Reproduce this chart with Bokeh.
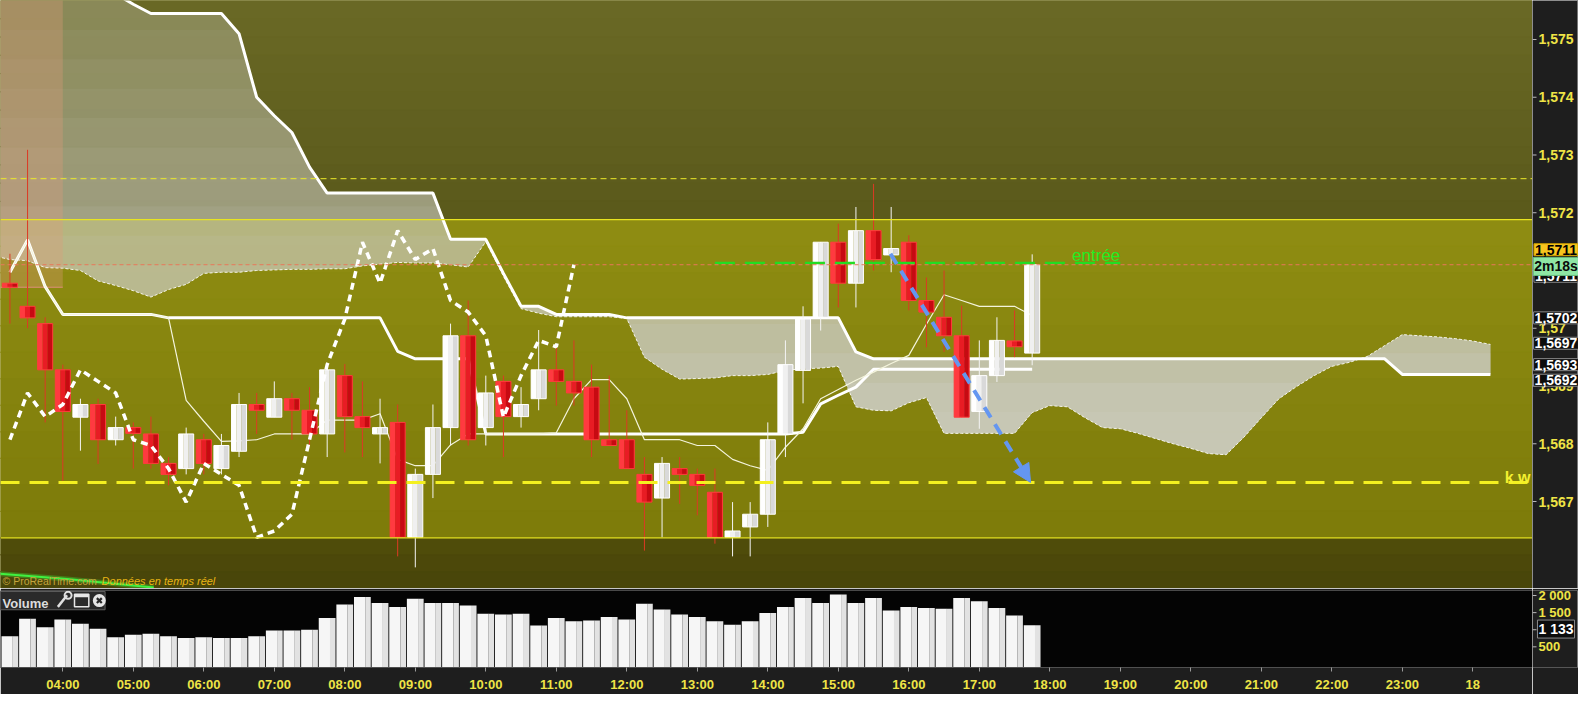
import numpy as np
from bokeh.plotting import figure
from bokeh.models import (Range1d, FixedTicker, CustomJSTickFormatter, Label,
                          Arrow, NormalHead, Span)
from bokeh.layouts import column, row
from bokeh.embed import file_html
from bokeh.resources import INLINE
from bokeh.core.properties import value

# ---------------- data ----------------
START_HOUR = 3.25      # first 15-minute candle: 03:15
STEP_HOUR = 0.25       # 15-minute candles

OPEN = [1.57078, 1.57038, 1.57008, 1.56928, 1.56846, 1.56868, 1.56807, 1.56828, 1.56817, 1.56766,
        1.56757, 1.56807, 1.56757, 1.56787, 1.56868, 1.56846, 1.56878, 1.56858, 1.56817, 1.56918,
        1.56847, 1.56817, 1.56837, 1.56638, 1.56747, 1.56828, 1.56987, 1.56828, 1.56908, 1.56847,
        1.56878, 1.56928, 1.56908, 1.56898, 1.56807, 1.56807, 1.56747, 1.56706, 1.56757, 1.56747,
        1.56716, 1.56638, 1.56656, 1.56678, 1.56817, 1.56927, 1.57019, 1.57149, 1.57078, 1.57169,
        1.57127, 1.57149, 1.57048, 1.57019, 1.56987, 1.56856, 1.56918, 1.56978, 1.56957]
HIGH = [1.57129, 1.57309, 1.57019, 1.56937, 1.56878, 1.56878, 1.56847, 1.56837, 1.56847, 1.56777,
        1.56828, 1.56817, 1.56817, 1.56888, 1.56888, 1.56908, 1.56888, 1.56898, 1.56937, 1.56938,
        1.56908, 1.56878, 1.56868, 1.56757, 1.56868, 1.57008, 1.57048, 1.56918, 1.56918, 1.56898,
        1.56997, 1.56967, 1.56979, 1.56937, 1.56918, 1.56858, 1.56777, 1.56777, 1.56777, 1.56757,
        1.56757, 1.56699, 1.56699, 1.56837, 1.56979, 1.57038, 1.57149, 1.57181, 1.57210, 1.57250,
        1.57210, 1.57161, 1.57088, 1.57100, 1.57039, 1.56979, 1.57019, 1.57031, 1.57128]
LOW = [1.57008, 1.57000, 1.56837, 1.56736, 1.56788, 1.56765, 1.56797, 1.56757, 1.56757, 1.56728,
       1.56747, 1.56747, 1.56747, 1.56777, 1.56817, 1.56846, 1.56807, 1.56797, 1.56777, 1.56785,
       1.56777, 1.56766, 1.56605, 1.56586, 1.56706, 1.56797, 1.56797, 1.56797, 1.56777, 1.56828,
       1.56858, 1.56866, 1.56866, 1.56777, 1.56797, 1.56757, 1.56615, 1.56638, 1.56696, 1.56676,
       1.56627, 1.56605, 1.56605, 1.56656, 1.56777, 1.56870, 1.56996, 1.57036, 1.57036, 1.57100,
       1.57097, 1.57031, 1.56967, 1.56959, 1.56846, 1.56826, 1.56907, 1.56950, 1.56936]
CLOSE = [1.57071, 1.57018, 1.56928, 1.56856, 1.56868, 1.56807, 1.56828, 1.56818, 1.56766, 1.56747,
         1.56817, 1.56766, 1.56797, 1.56868, 1.56858, 1.56878, 1.56858, 1.56817, 1.56928, 1.56847,
         1.56828, 1.56828, 1.56638, 1.56747, 1.56828, 1.56987, 1.56807, 1.56888, 1.56847, 1.56868,
         1.56928, 1.56908, 1.56888, 1.56807, 1.56797, 1.56757, 1.56699, 1.56766, 1.56747, 1.56728,
         1.56638, 1.56649, 1.56678, 1.56807, 1.56937, 1.57016, 1.57149, 1.57078, 1.57169, 1.57119,
         1.57138, 1.57048, 1.57028, 1.56987, 1.56846, 1.56918, 1.56979, 1.56968, 1.57110]
VOLUME = [807, 1320, 1076, 1296, 1174, 1027, 782, 856, 880, 807,
          758, 782, 758, 758, 807, 978, 978, 1002, 1345, 1736,
          1956, 1785, 1663, 1907, 1785, 1785, 1711, 1467, 1443, 1467,
          1125, 1345, 1247, 1271, 1369, 1296, 1760, 1589, 1443, 1369,
          1247, 1149, 1247, 1491, 1663, 1931, 1785, 2029, 1785, 1931,
          1565, 1663, 1638, 1614, 1931, 1834, 1638, 1418, 1133]

KIJUN = ([1.57097, 1.57153, 1.57072] + [1.57024] * 6 + [1.57018] * 13 +
         [1.56960] + [1.56947] * 4 + [1.56817] * 18 + [1.56820] +
         [1.56869, 1.56884, 1.56898] + [1.56929] * 10)
TENKAN = [1.57097, 1.57153, 1.57072, 1.57024, 1.57024, 1.57024, 1.57024, 1.57024, 1.57024, 1.57018,
          1.56875, 1.56839, 1.56804, 1.56805, 1.56807, 1.56817, 1.56817, 1.56817, 1.56841, 1.56841,
          1.56841, 1.56852, 1.56773, 1.56762, 1.56762, 1.56798, 1.56817, 1.56817, 1.56817, 1.56817,
          1.56817, 1.56819, 1.56878, 1.56911, 1.56911, 1.56878, 1.56807, 1.56807, 1.56807, 1.56797,
          1.56797, 1.56773, 1.56762, 1.56754, 1.56794, 1.56826, 1.56878, 1.56894, 1.56910, 1.56924,
          1.56939, 1.56953, 1.57007, 1.57058, 1.57048, 1.57038, 1.57038, 1.57038, 1.57022]

CLOUD_FIRST_INDEX = -1          # cloud values start one candle before the first candle
SENKOU_B = ([1.57602] * 7 + [1.57579, 1.57561] + [1.57545] * 5 + [1.57510, 1.57400, 1.57368,
            1.57339, 1.57279] + [1.57234] * 7 + [1.57154] * 3 + [1.57095] + [1.57038] * 2 +
            [1.57024] * 4 + [1.57018] * 13 + [1.56959] + [1.56947] * 30 + [1.56920] * 6)
SENKOU_A = [1.57126, 1.57119, 1.57117, 1.57105, 1.57104, 1.57100, 1.57082, 1.57074, 1.57065, 1.57054,
            1.57067, 1.57076, 1.57095, 1.57097, 1.57097, 1.57100, 1.57101, 1.57102, 1.57102, 1.57103,
            1.57103, 1.57108, 1.57111, 1.57114, 1.57113, 1.57113, 1.57110, 1.57106, 1.57150, 1.57090,
            1.57034, 1.57026, 1.57020, 1.57020, 1.57020, 1.57020, 1.57017, 1.56950, 1.56929, 1.56912,
            1.56913, 1.56914, 1.56918, 1.56918, 1.56920, 1.56927, 1.56930, 1.56931, 1.56934, 1.56864,
            1.56858, 1.56857, 1.56871, 1.56880, 1.56818, 1.56818, 1.56818, 1.56818, 1.56818, 1.56854,
            1.56866, 1.56864, 1.56845, 1.56828, 1.56826, 1.56818, 1.56809, 1.56800, 1.56792, 1.56783,
            1.56781, 1.56811, 1.56845, 1.56878, 1.56899, 1.56918, 1.56934, 1.56941, 1.56951, 1.56970,
            1.56989, 1.56987, 1.56985, 1.56982, 1.56978, 1.56972]
CHIKOU_SHIFT = 26

ZONE_HIGH = 1.57188
ZONE_LOW = 1.56637
UPPER_DASHED = 1.57259
KW_LEVEL = 1.56733
LAST_PRICE = 1.5711
ENTRY_LEVEL = 1.57113
ENTRY_FROM, ENTRY_TO = 13.25, 19.0
HIGHLIGHT_END, HIGHLIGHT_LOW = 4.0, 1.57071
ARROW_FROM = (15.74, 1.57129)
ARROW_TO = (17.727, 1.56733)
GREEN_T = [3.0, 4.06, 5.29]
GREEN_P = [1.56576, 1.56566, 1.56551]

TIME_TICKS = list(range(4, 25))
PRICE_TICKS = [1.567, 1.568, 1.569, 1.570, 1.571, 1.572, 1.573, 1.574, 1.575]
VOLUME_TICKS = [500, 1000, 1500, 2000]

BOX_TEXT = ["1,5711", "1,5711", "2m18s", "1,5702", "1,5697", "1,5693", "1,5692"]
BOX_POS = [1.57090, 1.57136, 1.57107, 1.57018, 1.56974, 1.56937, 1.56910]
BOX_KIND = ["dark", "last", "timer", "dark", "dark", "dark", "dark"]
VOLUME_LAST_TEXT = "1 133"
VOLUME_BOX_POS = 1020          # where the "1 133" tag is drawn on the volume scale

# ---------------- layout & style ----------------
PX_PER_HOUR = 70.5
W_MAIN, W_AXIS = 1532, 46
H_MAIN, H_VOL_FRAME, H_GAP, H_TIME = 588, 80, 2, 24
X0 = 3.11631
X1 = X0 + W_MAIN / PX_PER_HOUR
Y0, Y1 = 1.565494, 1.575675
PPX = (Y1 - Y0) / H_MAIN            # price units per pixel
V0, V1 = -104, 2147
VPX = (V1 - V0) / H_VOL_FRAME       # volume units per pixel
FONT = "Liberation Sans"
YELLOW = "#efe446"
AXIS_BG = "#1e1e1e"
BOX_CX = 23.5

t = START_HOUR + STEP_HOUR * np.arange(len(OPEN))
o, h, l, c = map(np.array, (OPEN, HIGH, LOW, CLOSE))
tk = START_HOUR + STEP_HOUR * (CLOUD_FIRST_INDEX + np.arange(len(SENKOU_A)))
ssa, ssb = np.array(SENKOU_A), np.array(SENKOU_B)

xr = Range1d(X0, X1)
yr = Range1d(Y0, Y1)
common = dict(output_backend="svg", toolbar_location=None, outline_line_color=None,
              min_border_left=0, min_border_right=0)

p = figure(width=W_MAIN, height=H_MAIN, x_range=xr, y_range=yr,
           x_axis_location=None, y_axis_location=None,
           min_border_top=0, min_border_bottom=0,
           background_fill_color="#7e7c0a", border_fill_color=AXIS_BG, **common)
p.grid.visible = False


def mix(c1, c2, f):
    a = [int(c1[i:i + 2], 16) for i in (1, 3, 5)]
    b = [int(c2[i:i + 2], 16) for i in (1, 3, 5)]
    return "#%02x%02x%02x" % tuple(int(round(a[j] + (b[j] - a[j]) * f)) for j in range(3))


def gradient_band(top, bottom, ctop, cbot, n=12):
    e = np.linspace(top, bottom, n + 1)
    cols = [mix(ctop, cbot, (k + 0.5) / n) for k in range(n)]
    p.quad(left=X0 - 1, right=X1 + 1, top=e[:-1], bottom=e[1:],
           fill_color=cols, line_color=cols, line_width=1)


gradient_band(Y1, ZONE_HIGH, "#6a6925", "#5a591b")
gradient_band(ZONE_HIGH, ZONE_LOW, "#8f8d12", "#7d7b0a")
gradient_band(ZONE_LOW, Y0, "#514d0a", "#47440a", n=3)

# cloud: fill is more opaque toward the bottom of the panel; built from nested
# layers (each covers the cloud below its top edge) so that no seams appear.
xs = np.linspace(tk[0], tk[-1], (len(tk) - 1) * 16 + 1)
fa, fb = np.interp(xs, tk, ssa), np.interp(xs, tk, ssb)
lo_c, hi_c = np.minimum(fa, fb), np.maximum(fa, fb)
N_LAYERS = 20
edges = np.linspace(Y1, Y0, N_LAYERS + 1)
prev = 0.0
for j in range(N_LAYERS):
    f = (Y1 - 0.5 * (edges[j] + edges[j + 1])) / (Y1 - Y0)
    target = min(0.92, 0.30 + 0.88 * f)
    a_j = 1 - (1 - target) / (1 - prev)
    prev = target
    if a_j <= 0.001:
        continue
    top_j = edges[j] + (0.01 if j == 0 else 0.0)
    p.varea(x=xs, y1=np.minimum(lo_c, top_j), y2=np.minimum(hi_c, top_j),
            fill_color="#cfcfc4", fill_alpha=a_j)

# highlighted zone at the left
p.quad(left=X0 - 1, right=HIGHLIGHT_END, bottom=HIGHLIGHT_LOW, top=Y1 + 1,
       fill_color="#e09a78", fill_alpha=0.33, line_color=None)
p.line([X0 - 1, HIGHLIGHT_END], [HIGHLIGHT_LOW, HIGHLIGHT_LOW], line_color="#f09090",
       line_width=1.2, line_alpha=0.8)

# Ichimoku lines
p.line(tk, ssa, line_color="#f4f4e8", line_width=1, line_dash="3 2")
p.line(tk, ssb, line_color="#ffffff", line_width=3)
p.line(t, KIJUN, line_color="#ffffff", line_width=3)
p.line(t, TENKAN, line_color="#f4f4dc", line_width=1.2)

# green trace at bottom left
p.line(GREEN_T, GREEN_P, line_color="#40ff40", line_width=5, line_alpha=0.3)
p.line(GREEN_T, GREEN_P, line_color="#40f040", line_width=2)

# candles: wicks, then bodies shaded in three vertical slices (light -> dark)
BODY_W = 0.213
up = c >= o
wick_col = np.where(up, "#f4f4f4", "#dc3a24")
p.segment(x0=t, y0=l, x1=t, y1=h, line_color=list(wick_col), line_width=1)
shades = {True: ["#ffffff", "#f0f0f0", "#d9d9d9"], False: ["#ff3a40", "#e81c24", "#c70a12"]}
for is_up in (True, False):
    m = up if is_up else ~up
    top_b = np.where(up, c, o)[m]
    bot_b = np.where(up, o, c)[m]
    for k, col in enumerate(shades[is_up]):
        p.vbar(x=t[m] + (k - 1) * BODY_W / 3, width=BODY_W / 3 + 0.002, top=top_b,
               bottom=bot_b, fill_color=col, line_color=None)
    p.vbar(x=t[m], width=BODY_W, top=top_b, bottom=bot_b, fill_color=None,
           line_color="#ffffff" if is_up else "#ff3c3c", line_width=1)

# chikou span (close shifted back 26 periods)
p.line(t[:len(t) - CHIKOU_SHIFT], c[CHIKOU_SHIFT:], line_color="#ffffff",
       line_width=3.5, line_dash="7 5")

# horizontal levels
p.add_layout(Span(location=ZONE_HIGH, dimension="width", line_color="#e8e420", line_width=1.2))
p.add_layout(Span(location=ZONE_LOW, dimension="width", line_color="#e8e420", line_width=1.2))
p.add_layout(Span(location=UPPER_DASHED, dimension="width", line_color="#ecea28",
                  line_width=1, line_dash="6 4"))
p.add_layout(Span(location=KW_LEVEL, dimension="width", line_color="#f4f020",
                  line_width=3, line_dash="19 10"))
p.add_layout(Span(location=LAST_PRICE, dimension="width", line_color="#e8785a",
                  line_width=1, line_dash="4 3"))
p.line([ENTRY_FROM, ENTRY_TO], [ENTRY_LEVEL, ENTRY_LEVEL], line_color="#22dd22",
       line_width=2.5, line_dash="20 10")

# arrow
BLUE = "#6496f0"
p.add_layout(Arrow(end=NormalHead(size=18, fill_color=BLUE, line_color=BLUE),
                   x_start=ARROW_FROM[0], y_start=ARROW_FROM[1],
                   x_end=ARROW_TO[0], y_end=ARROW_TO[1],
                   line_color=BLUE, line_width=4, line_dash="12 8"))

# texts
p.add_layout(Label(x=ENTRY_TO, y=ENTRY_LEVEL + 7 * PPX, text="entrée", text_align="right",
                   text_baseline="alphabetic", text_color="#22ee22", text_font=FONT,
                   text_font_size="17px"))
p.add_layout(Label(x=X1 - 2 / PX_PER_HOUR, y=KW_LEVEL + 5 * PPX, text="k w", text_align="right",
                   text_baseline="alphabetic", text_color="#f4f030", text_font=FONT,
                   text_font_size="16px", text_font_style="bold"))
p.add_layout(Label(x=3.145, y=Y0 + 8 * PPX, text="© ProRealTime.com", text_baseline="alphabetic",
                   text_color="#c4a43c", text_font=FONT, text_font_size="10.5px"))
p.add_layout(Label(x=4.55, y=Y0 + 8 * PPX, text="Données en temps réel",
                   text_baseline="alphabetic", text_color="#e8b414", text_font=FONT,
                   text_font_size="11px", text_font_style="italic"))

# ---------------- right price scale (shares the price range) ----------------
pa = figure(width=W_AXIS, height=H_MAIN, x_range=Range1d(0, W_AXIS), y_range=yr,
            x_axis_location=None, y_axis_location=None,
            min_border_top=0, min_border_bottom=0,
            background_fill_color=AXIS_BG, border_fill_color=AXIS_BG, **common)
pa.grid.visible = False
price_labels = [("%.3f" % v).rstrip("0").replace(".", ",") for v in PRICE_TICKS]
pa.segment(x0=0, x1=4, y0=PRICE_TICKS, y1=PRICE_TICKS, line_color="#bbbbbb", line_width=1)
pa.text(x=6, y=PRICE_TICKS, text=price_labels, text_align="left", text_baseline="middle",
        text_color=YELLOW, text_font=value(FONT), text_font_size="14px",
        text_font_style="bold")
pa.add_layout(Span(location=W_AXIS - 1, dimension="height", line_color="#777777", line_width=1))

BOX_STYLE = {"dark": ("#0c0c0c", "#ffffff", "#8a8a8a"),
             "last": ("#f7c51e", "#000000", "#c89c00"),
             "timer": ("#8ee6a4", "#0a0a0a", "#66bb7e")}
for txt, pos, kind in zip(BOX_TEXT, BOX_POS, BOX_KIND):
    bg, fg, bd = BOX_STYLE[kind]
    pa.add_layout(Label(x=BOX_CX, y=pos, text=txt, text_align="center", text_baseline="middle",
                        text_color=fg, text_font=FONT, text_font_size="14px",
                        text_font_style="bold", background_fill_color=bg,
                        border_line_color=bd, border_line_width=1, padding=1))

# ---------------- volume panel ----------------
H_VOL = H_GAP + H_VOL_FRAME + H_TIME
vr = Range1d(V0, V1)
v = figure(width=W_MAIN, height=H_VOL, x_range=xr, y_range=vr,
           y_axis_location=None, min_border_top=H_GAP, min_border_bottom=H_TIME,
           background_fill_color="#040404", border_fill_color=AXIS_BG, **common)
v.grid.visible = False
VOL_W = 0.237
v.vbar(x=t - VOL_W / 6, width=VOL_W * 2 / 3 + 0.002, top=VOLUME, bottom=V0,
       fill_color="#f6f6f6", line_color=None)
v.vbar(x=t + VOL_W / 3, width=VOL_W / 3, top=VOLUME, bottom=V0,
       fill_color="#e2e2e2", line_color=None)

# header box "Volume" with icons (sizes in pixels converted to volume units)
v.quad(left=X0 - 0.05, right=4.60, bottom=V1 - 20 * VPX, top=V1 - 1 * VPX,
       fill_color="#2a2a2a", line_color="#5e5e5e", line_width=1)
v.add_layout(Label(x=3.145, y=V1 - 14 * VPX, text="Volume", text_baseline="alphabetic",
                   text_color="#dcdcdc", text_font=FONT, text_font_size="13px",
                   text_font_style="bold"))
v.line([3.93, 4.06], [V1 - 17 * VPX, V1 - 5 * VPX], line_color="#e0e0e0", line_width=2.5)
v.scatter([4.075], [V1 - 5 * VPX], marker="circle", size=7, fill_color=None,
          line_color="#e0e0e0", line_width=2)
v.quad(left=4.166, right=4.369, bottom=V1 - 17 * VPX, top=V1 - 4 * VPX, fill_color=None,
       line_color="#e6e6e6", line_width=1.5)
v.quad(left=4.166, right=4.369, bottom=V1 - 7 * VPX, top=V1 - 4 * VPX,
       fill_color="#e6e6e6", line_color=None)
v.scatter([4.518], [V1 - 10.5 * VPX], marker="circle", size=13, fill_color="#e6e6e6",
          line_color=None)
v.scatter([4.518], [V1 - 10.5 * VPX], marker="x", size=7, line_color="#2a2a2a",
          line_width=2.2)

vx = v.xaxis[0]
vx.ticker = FixedTicker(ticks=TIME_TICKS)
vx.formatter = CustomJSTickFormatter(
    code="return tick >= 24 ? '18' : String(tick).padStart(2, '0') + ':00';")
vx.axis_line_color = "#505050"
vx.major_tick_line_color = "#9a9a9a"
vx.major_tick_out = 4
vx.major_tick_in = 0
vx.minor_tick_line_color = None
vx.major_label_standoff = 5
vx.major_label_text_color = YELLOW
vx.major_label_text_font = FONT
vx.major_label_text_font_size = "13px"
vx.major_label_text_font_style = "bold"

# right volume scale
va = figure(width=W_AXIS, height=H_VOL, x_range=Range1d(0, W_AXIS), y_range=vr,
            x_axis_location=None, y_axis_location=None,
            min_border_top=H_GAP, min_border_bottom=H_TIME,
            background_fill_color=AXIS_BG, border_fill_color=AXIS_BG, **common)
va.grid.visible = False
vol_labels = [("%d %03d" % (k // 1000, k % 1000)) if k >= 1000 else str(k) for k in VOLUME_TICKS]
va.segment(x0=0, x1=4, y0=VOLUME_TICKS, y1=VOLUME_TICKS, line_color="#bbbbbb", line_width=1)
va.text(x=6, y=VOLUME_TICKS, text=vol_labels, text_align="left", text_baseline="middle",
        text_color=YELLOW, text_font=value(FONT), text_font_size="13px",
        text_font_style="bold")
va.add_layout(Span(location=W_AXIS - 1, dimension="height", line_color="#777777", line_width=1))
va.add_layout(Label(x=BOX_CX, y=VOLUME_BOX_POS, text=VOLUME_LAST_TEXT, text_align="center",
                    text_baseline="middle", text_color="#ffffff", text_font=FONT,
                    text_font_size="14px", text_font_style="bold",
                    background_fill_color="#0c0c0c", border_line_color="#8a8a8a",
                    border_line_width=1, padding=1))

layout = column(row(p, pa, spacing=0), row(v, va, spacing=0), spacing=0)
open("out.html", "w").write(file_html(layout, INLINE))
